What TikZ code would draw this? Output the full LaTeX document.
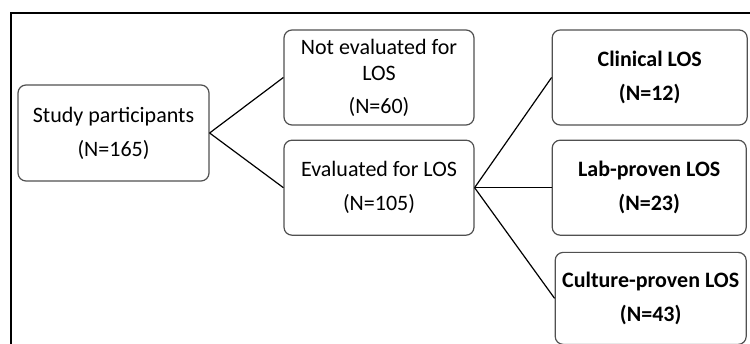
\documentclass[tikz,border=0pt]{standalone}
\usepackage{fontspec}
\setmainfont{Carlito}
\usepackage{tikz}
\usetikzlibrary{positioning}
\definecolor{edge}{RGB}{80,80,80}
\tikzset{
  box/.style={draw=edge,line width=1.2pt,rounded corners=8pt,align=center,inner sep=3pt,
    font=\fontsize{22}{26}\selectfont},
  bbox/.style={box,font=\fontsize{22}{26}\selectfont\bfseries},
  ln/.style={line width=1.2pt},
  frm/.style={line width=1.4pt}
}

\begin{document}
\begin{tikzpicture}[x=1pt,y=1pt]
\useasboundingbox (0,0) rectangle (750,344);
\draw[frm] (11,-10) -- (11,331) -- (760,331);
\node[box,minimum width=191pt,minimum height=96pt] (st) at (113.5,211) {Study participants\\[8pt](N=165)};
\node[box,minimum width=190pt,minimum height=95pt] (nev) at (379,266.5) {Not evaluated for\\LOS\\[7pt](N=60)};
\node[box,minimum width=190pt,minimum height=95pt,below=14pt of nev] (ev) {Evaluated for LOS\\[8pt](N=105)};
\node[bbox,minimum width=195pt,minimum height=95pt,right=77pt of nev] (cl) {Clinical LOS\\[8pt](N=12)};
\node[bbox,minimum width=194pt,minimum height=95pt,right=77pt of ev] (lab) {Lab-proven LOS\\[8pt](N=23)};
\node[bbox,minimum width=191pt,minimum height=92pt,below=16pt of lab,xshift=1.5pt] (cult) {Culture-proven LOS\\[8pt](N=43)};
\foreach \x/\y in {st/nev,st/ev,ev/cl,ev/lab,ev/cult} \draw[ln] (\x.east) -- (\y.west);
\end{tikzpicture}
\end{document}
